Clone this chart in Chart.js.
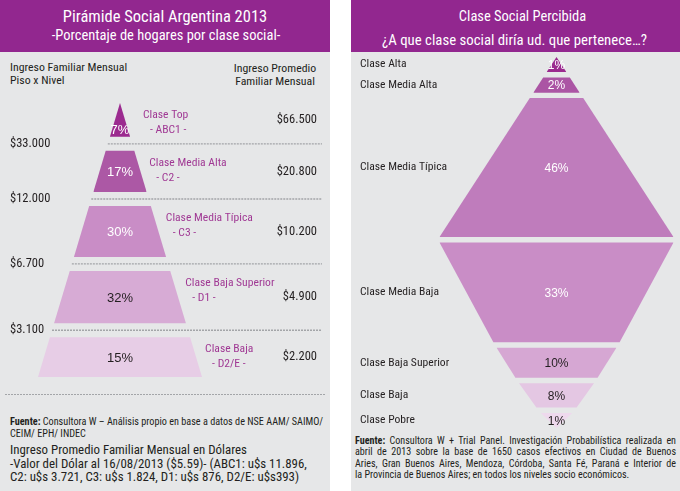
<!DOCTYPE html>
<html>
<head>
<meta charset="utf-8">
<script src="https://cdn.jsdelivr.net/npm/chart.js"></script>
<style>
html,body{margin:0;padding:0;background:#ffffff;width:680px;height:491px;overflow:hidden;}
.panel{position:absolute;top:0;height:491px;background:#e6e7e8;}
.hdr{position:absolute;left:0;top:0;right:0;height:52px;background:#92278f;}
.t{position:absolute;white-space:nowrap;font-family:'Roboto Condensed','Liberation Sans',sans-serif;color:#231f20;}
.w{color:#ffffff;}
.just div{text-align:justify;text-align-last:justify;white-space:nowrap;}
.just div.last{text-align-last:left;}
canvas{position:absolute;}
.dots{position:absolute;height:1px;background:repeating-linear-gradient(to right,#a3a5a8 0 2px,transparent 2px 3px);}
</style>
</head>
<body>
<div class="panel" id="pl" style="left:0;width:330px;">
  <div class="hdr"></div>
  <div class="t w" style="left:0;width:330px;text-align:center;top:6px;font-size:16.5px;line-height:22px;">Pirámide Social Argentina 2013</div>
  <div class="t w" style="left:0;width:332px;text-align:center;top:26px;font-size:14.5px;line-height:19px;">-Porcentaje de hogares por clase social-</div>
  <div class="t" style="left:10px;top:61px;font-size:11.8px;line-height:12.5px;">Ingreso Familiar Mensual<br>Piso x Nivel</div>
  <div class="t" style="left:205px;width:140px;text-align:center;top:61.5px;font-size:11.8px;line-height:13px;">Ingreso Promedio<br>Familiar Mensual</div>
  <div class="dots" style="left:5px;width:320px;top:394px;"></div>
  <div class="t" style="left:10px;top:416px;font-size:10.2px;line-height:11.5px;"><b>Fuente:</b> Consultora W – Análisis propio en base a datos de NSE AAM/ SAIMO/<br>CEIM/ EPH/ INDEC</div>
  <div class="t" style="left:10px;top:443px;font-size:12.9px;line-height:13.5px;">Ingreso Promedio Familiar Mensual en Dólares<br>-Valor del Dólar al 16/08/2013 ($5.59)- (ABC1: u$s 11.896,<br>C2: u$s 3.721, C3: u$s 1.824, D1: u$s 876, D2/E: u$s393)</div>
</div>
<div class="panel" id="pr" style="left:351px;width:329px;">
  <div class="hdr"></div>
  <div class="t w" style="left:0;width:343px;text-align:center;top:7px;font-size:14.5px;line-height:20px;">Clase Social Percibida</div>
  <div class="t w" style="left:0;width:327px;text-align:center;top:30px;font-size:14.8px;line-height:20px;">¿A que clase social diría ud. que pertenece…?</div>
  <div class="t just" style="left:4px;width:321px;top:435px;font-size:10.1px;line-height:11.4px;">
    <div><b>Fuente:</b> Consultora W + Trial Panel. Investigación Probabilística realizada en</div>
    <div>abril de 2013 sobre la base de 1650 casos efectivos en Ciudad de Buenos</div>
    <div>Aries, Gran Buenos Aires, Mendoza, Córdoba, Santa Fé, Paraná e Interior de</div>
    <div class="last">la Provincia de Buenos Aires; en todos los niveles socio económicos.</div>
  </div>
</div>
<canvas id="cl" width="330" height="310" style="left:0;top:90px;width:330px;height:310px;"></canvas>
<canvas id="cr" width="329" height="383" style="left:351px;top:52px;width:329px;height:383px;"></canvas>
<script>
// ---------------- data ----------------
const pyramidClasses = ['Clase Top', 'Clase Media Alta', 'Clase Media Típica', 'Clase Baja Superior', 'Clase Baja'];
const pyramidCodes = ['- ABC1 -', '- C2 -', '- C3 -', '- D1 -', '- D2/E -'];
const pyramidShares = [7, 17, 30, 32, 15];
const incomeFloors = [33000, 12000, 6700, 3100];
const incomeAverage = [66500, 20800, 10200, 4900, 2200];

const perceivedClasses = ['Clase Alta', 'Clase Media Alta', 'Clase Media Típica', 'Clase Media Baja', 'Clase Baja Superior', 'Clase Baja', 'Clase Pobre'];
const perceivedShares = [1, 2, 46, 33, 10, 8, 1];

// ---------------- styles ----------------
const COND = "'Roboto Condensed','Liberation Sans',sans-serif";
const SANS = "'Liberation Sans',Arial,sans-serif";
const DARK = '#231f20';
const LABEL_PURPLE = '#a03994';
const DOT = '#a3a5a8';
const pyramidColors = ['#9b2a8f', '#ac58a5', '#c98dc6', '#d7abd5', '#e7cde6'];
const perceivedColors = ['#9b2a8f', '#ab55a4', '#bf7cbc', '#c98dc6', '#d6a7d3', '#e4c7e3', '#eed9ed'];

function money(n) { return '$' + String(n).replace(/\B(?=(\d{3})+(?!\d))/g, '.'); }
function lum(hex) {
  const c = [1, 3, 5].map(i => parseInt(hex.substr(i, 2), 16) / 255).map(v => v <= 0.03928 ? v / 12.92 : Math.pow((v + 0.055) / 1.055, 2.4));
  return 0.2126 * c[0] + 0.7152 * c[1] + 0.0722 * c[2];
}
function textOn(hex) { return lum(hex) > 0.42 ? DARK : '#ffffff'; }

// axis with labels drawn inside the plot area (no reserved width)
function zeroAxis(s) { s.width = 0; s.paddingTop = 0; s.paddingBottom = 0; }
function labelAxis(position, min, max, tickValues, labelFor, size) {
  return {
    type: 'linear', reverse: true, min, max, position,
    grid: {display: false, drawTicks: false}, border: {display: false},
    afterBuildTicks: s => { s.ticks = tickValues.map(v => ({value: v})); },
    afterFit: zeroAxis,
    ticks: {mirror: true, crossAlign: 'near', padding: 0, autoSkip: false, color: DARK,
      font: {family: COND, size}, callback: (v, i) => labelFor(i)}
  };
}

// ---------------- left: pyramid ----------------
const PYR = {base: 38.4, gap: 18.8, halfBase: 82, xMin: -110, xMax: 197, lineEnd: 202};
let acc = 0;
const pyrBands = pyramidShares.map(p => {
  const top = acc, bottom = top + p + PYR.base;
  acc = bottom + PYR.gap;
  return {top, bottom};
});
const pyrTotal = pyrBands[pyrBands.length - 1].bottom;
const pyrHW = u => PYR.halfBase * u / pyrTotal;
const gapMids = pyrBands.slice(0, -1).map(b => b.bottom + PYR.gap / 2);
const bandMids = pyrBands.map(b => (b.top + b.bottom) / 2);

const leftDatasets = pyrBands.map((b, i) => ({
  data: [
    {x: -pyrHW(b.bottom), y: b.bottom}, {x: -pyrHW(b.top), y: b.top},
    {x: pyrHW(b.top), y: b.top}, {x: pyrHW(b.bottom), y: b.bottom}
  ],
  backgroundColor: pyramidColors[i], borderWidth: 0, pointRadius: 0, tension: 0,
  fill: {value: b.bottom}
}));
gapMids.forEach(g => leftDatasets.push({
  data: [{x: -pyrHW(g), y: g}, {x: PYR.lineEnd, y: g}],
  borderColor: DOT, borderWidth: 1.3, borderDash: [2, 1], pointRadius: 0, fill: false, clip: false
}));

const pyramidLabels = {
  id: 'pyramidLabels',
  afterDatasetsDraw(chart) {
    const {ctx, scales: {x, y}} = chart;
    ctx.save();
    pyrBands.forEach((b, i) => {
      const cx = x.getPixelForValue(0);
      const yt = y.getPixelForValue(b.top), yb = y.getPixelForValue(b.bottom);
      ctx.textBaseline = 'middle';
      ctx.textAlign = 'center';
      ctx.font = '13px ' + SANS;
      ctx.fillStyle = textOn(pyramidColors[i]);
      const py = pyrHW(b.top) < 1 ? yb - 6 : (yt + yb) / 2 + 1;
      ctx.fillText(pyramidShares[i] + '%', cx, py);
      const lx = Math.max(x.getPixelForValue(pyrHW(b.top)), cx + 8) + 15;
      ctx.textAlign = 'left';
      ctx.font = '11.6px ' + COND;
      ctx.fillStyle = LABEL_PURPLE;
      ctx.fillText(pyramidClasses[i], lx, yt + 12);
      ctx.fillText(pyramidCodes[i], lx + 7, yt + 27);
    });
    ctx.restore();
  }
};

new Chart(document.getElementById('cl'), {
  type: 'line',
  data: {datasets: leftDatasets},
  options: {
    responsive: false, animation: false, devicePixelRatio: 1, events: [],
    layout: {padding: {left: 10, right: 13, top: 13, bottom: 23}},
    plugins: {legend: {display: false}, tooltip: {enabled: false}},
    scales: {
      x: {type: 'linear', display: false, min: PYR.xMin, max: PYR.xMax},
      y: labelAxis('left', 0, pyrTotal, gapMids, i => money(incomeFloors[i]), 12.5),
      y2: labelAxis('right', 0, pyrTotal, bandMids, i => money(incomeAverage[i]), 12.5)
    }
  },
  plugins: [pyramidLabels]
});

// ---------------- right: perceived class funnel ----------------
const FUN = {minSize: 5, gap: 1.8, halfMax: 117, taper: 0.8, xMin: -196.5, xMax: 123.5};
let acc2 = 0;
const funSegs = perceivedShares.map(p => {
  const top = acc2, bottom = top + Math.max(p, FUN.minSize);
  acc2 = bottom + FUN.gap;
  return {top, bottom};
});
const funTotal = funSegs[funSegs.length - 1].bottom;
const widest = perceivedShares.indexOf(Math.max(...perceivedShares));
const uw = funSegs[widest].bottom;
const uw2 = funSegs[widest + 1].top;
const funHW = u => u <= uw ? FUN.halfMax * u / uw : FUN.halfMax * Math.pow(Math.max(funTotal - u, 0) / (funTotal - uw2), FUN.taper);
const segMids = funSegs.map(s => (s.top + s.bottom) / 2);

const rightDatasets = funSegs.map((s, i) => {
  const wideBottom = i <= widest;
  const wide = wideBottom ? s.bottom : s.top, narrow = wideBottom ? s.top : s.bottom;
  return {
    data: [
      {x: -funHW(wide), y: wide}, {x: -funHW(narrow), y: narrow},
      {x: funHW(narrow), y: narrow}, {x: funHW(wide), y: wide}
    ],
    backgroundColor: perceivedColors[i], borderWidth: 0, pointRadius: 0, tension: 0,
    fill: {value: wide}
  };
});

const funnelLabels = {
  id: 'funnelLabels',
  afterDatasetsDraw(chart) {
    const {ctx, scales: {x, y}} = chart;
    ctx.save();
    ctx.textAlign = 'center';
    ctx.textBaseline = 'middle';
    ctx.font = '12px ' + SANS;
    funSegs.forEach((s, i) => {
      ctx.fillStyle = textOn(perceivedColors[i]);
      ctx.fillText(perceivedShares[i] + '%', x.getPixelForValue(0), y.getPixelForValue(segMids[i]) + 1);
    });
    ctx.restore();
  }
};

new Chart(document.getElementById('cr'), {
  type: 'line',
  data: {datasets: rightDatasets},
  options: {
    responsive: false, animation: false, devicePixelRatio: 1, events: [],
    layout: {padding: {left: 9, right: 0, top: 5, bottom: 7}},
    plugins: {legend: {display: false}, tooltip: {enabled: false}},
    scales: {
      x: {type: 'linear', display: false, min: FUN.xMin, max: FUN.xMax},
      y: labelAxis('left', 0, funTotal, segMids, i => perceivedClasses[i], 11.6)
    }
  },
  plugins: [funnelLabels]
});
</script>
</body>
</html>
